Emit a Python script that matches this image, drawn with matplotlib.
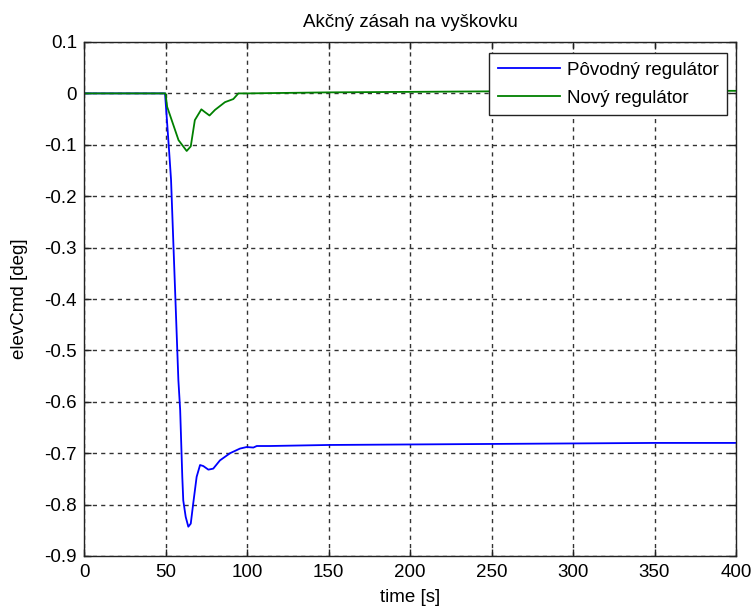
import matplotlib
matplotlib.use("Agg")
import matplotlib.pyplot as plt

plt.rcParams['font.family'] = ['Liberation Sans', 'DejaVu Sans']

t_blue = [0, 49.7, 51.1, 52.3, 53.4, 57.9, 59.0, 60.3, 60.9, 62.4, 64.0, 65.5, 67.0, 69.1,
          71.2, 73.2, 76.3, 79.3, 83.4, 89.6, 95.7, 99.8, 103.9, 106, 114, 150, 200, 250, 300, 350, 400]
y_blue = [0, 0, -0.062, -0.116, -0.168, -0.558, -0.616, -0.746, -0.792, -0.824, -0.843, -0.837,
          -0.798, -0.746, -0.723, -0.725, -0.732, -0.730, -0.714, -0.700, -0.691, -0.688, -0.689,
          -0.686, -0.686, -0.684, -0.683, -0.682, -0.681, -0.680, -0.680]

t_green = [0, 50, 51, 58, 63, 65.5, 68, 72, 74, 77, 80.4, 86.5, 91.6, 94.7, 100, 150, 200, 250, 300, 350, 400]
y_green = [0, 0, -0.026, -0.091, -0.112, -0.103, -0.052, -0.031, -0.036, -0.043, -0.032, -0.017,
           -0.011, 0.0, 0.0, 0.002, 0.003, 0.004, 0.005, 0.005, 0.005]

x_ticks = [0, 50, 100, 150, 200, 250, 300, 350, 400]
y_ticks = [0.1, 0, -0.1, -0.2, -0.3, -0.4, -0.5, -0.6, -0.7, -0.8, -0.9]
y_tick_labels = ['0.1', '0', '-0.1', '-0.2', '-0.3', '-0.4', '-0.5', '-0.6', '-0.7', '-0.8', '-0.9']

FS = 13.5

fig = plt.figure(figsize=(7.56, 6.12), dpi=100)
ax = fig.add_axes([84 / 756, 56 / 612, 652 / 756, 514 / 612])

ax.plot(t_blue, y_blue, color=(0, 0, 1), lw=1.3, label='Pôvodný regulátor')
ax.plot(t_green, y_green, color=(0, 0.5, 0), lw=1.3, label='Nový regulátor')

ax.set_xlim(0, 400)
ax.set_ylim(-0.9, 0.1)
ax.set_xticks(x_ticks)
ax.set_yticks(y_ticks)
ax.set_yticklabels(y_tick_labels)
ax.tick_params(direction='in', top=True, right=True, labelsize=FS, length=5, width=1,
               color='#222222')
ax.tick_params(axis='x', pad=6)
ax.tick_params(axis='y', pad=5)
ax.grid(True, color='#333333', linestyle=(0, (3, 3)), linewidth=1.0)
for s in ax.spines.values():
    s.set_linewidth(1)
    s.set_color('#222222')

ax.set_title('Akčný zásah na vyškovku', fontsize=FS, pad=11)
ax.set_xlabel('time [s]', fontsize=FS)
ax.set_ylabel('elevCmd [deg]', fontsize=FS)
ax.xaxis.set_label_coords(0.5, -(589 - 556) / 514)
ax.yaxis.set_label_coords((28 - 84) / 652, 0.5)

leg = ax.legend(loc='upper right', bbox_to_anchor=((727 - 84) / 652, (556 - 53) / 514),
                fontsize=FS, fancybox=False, framealpha=1, edgecolor='#222222',
                borderaxespad=0, borderpad=0.45, labelspacing=0.6,
                handlelength=3.3, handletextpad=0.37)
leg.get_frame().set_linewidth(1)

fig.savefig('out.png', dpi=100)
